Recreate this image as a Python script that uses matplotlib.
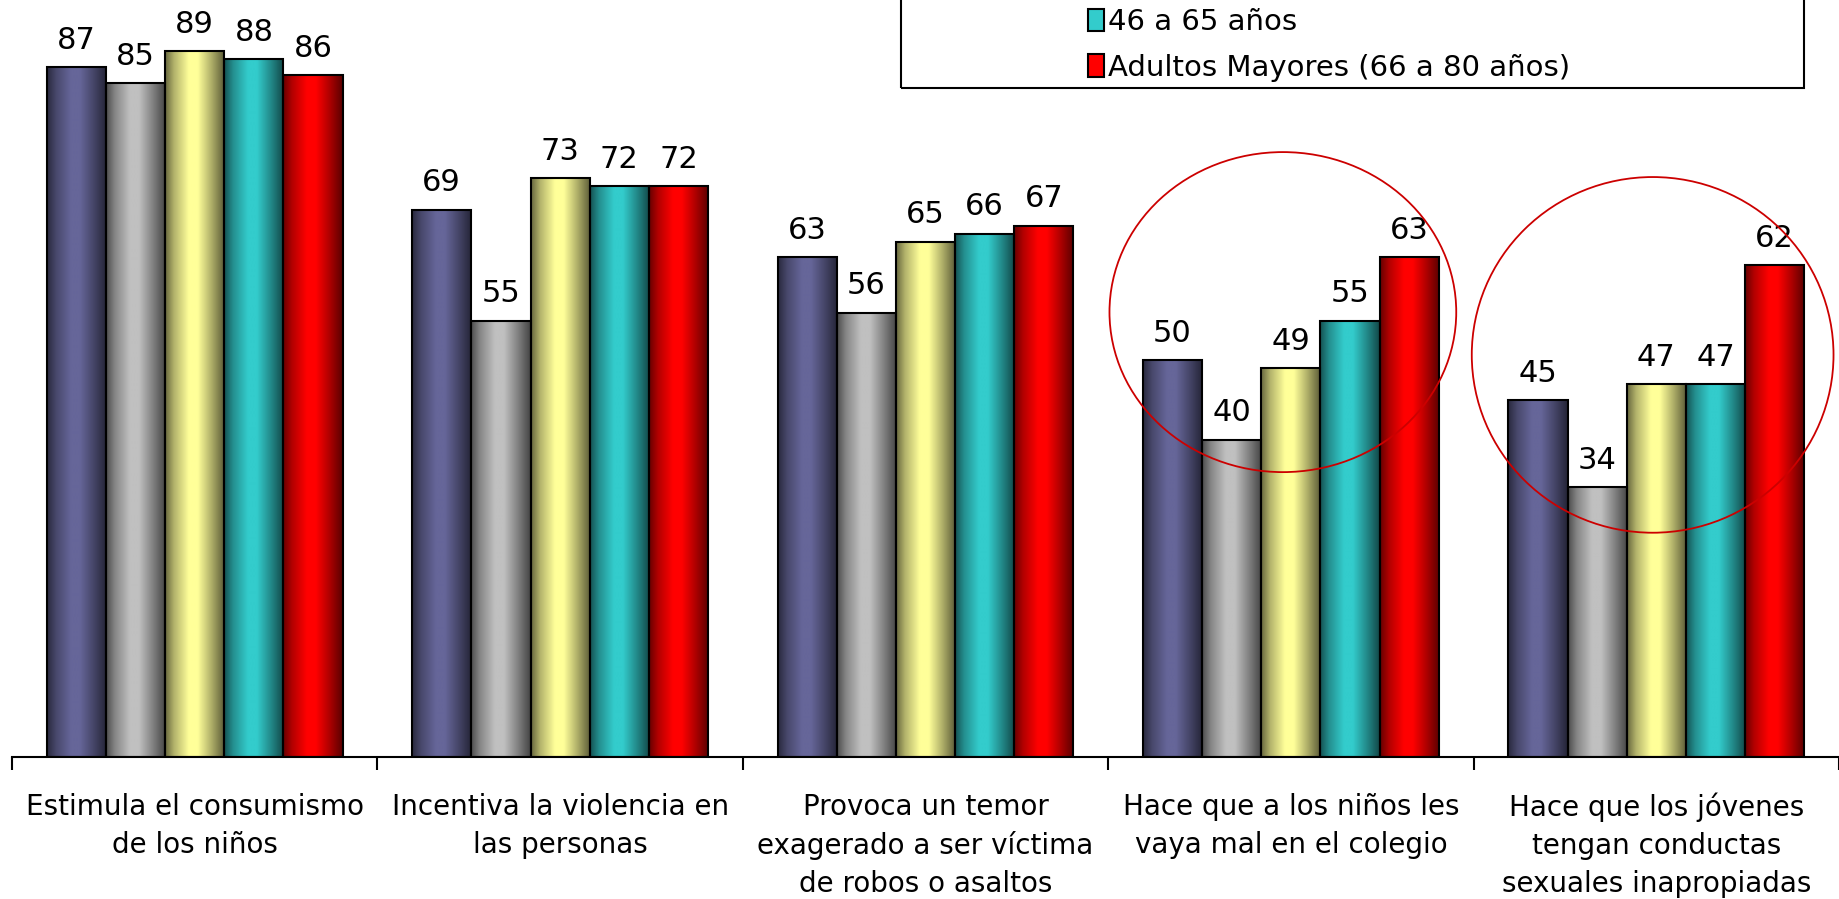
import numpy as np
import matplotlib
matplotlib.use("Agg")
import matplotlib.pyplot as plt
from matplotlib.patches import Ellipse, Rectangle
from matplotlib.ticker import FixedLocator, NullFormatter

# categorias (eje x)
categorias = [
    "Estimula el consumismo\nde los niños",
    "Incentiva la violencia en\nlas personas",
    "Provoca un temor\nexagerado a ser víctima\nde robos o asaltos",
    "Hace que a los niños les\nvaya mal en el colegio",
    "Hace que los jóvenes\ntengan conductas\nsexuales inapropiadas",
]

# series (solo las dos ultimas tienen etiqueta visible en la leyenda)
serie_1 = [87, 69, 63, 50, 45]
serie_2 = [85, 55, 56, 40, 34]
serie_3 = [89, 73, 65, 49, 47]
serie_46_65 = [88, 72, 66, 55, 47]
serie_mayores = [86, 72, 67, 63, 62]

series = [serie_1, serie_2, serie_3, serie_46_65, serie_mayores]
etiquetas = [None, None, None, "46 a 65 años", "Adultos Mayores (66 a 80 años)"]
colores = ["#666699", "#C0C0C0", "#FFFF99", "#33CCCC", "#FF0000"]

FONT = "DejaVu Sans"
FS = 20

W, H = 1839, 899
fig = plt.figure(figsize=(W / 100, H / 100), dpi=100)
ax = fig.add_axes([12 / W, 1 - 756.5 / H, 1 - 12 / W, 756.5 / H])

n = len(series)
ancho_grupo = 0.81
ancho = ancho_grupo / n
x = np.arange(len(categorias))

# perfil de brillo tipo cilindro
t = np.linspace(0, 1, 200)
perfil = np.interp(t, [0, 0.15, 0.4, 0.55, 0.8, 1], [0.4, 0.7, 1.0, 1.0, 0.65, 0.35])

handles = []
for i, (vals, col) in enumerate(zip(series, colores)):
    pos = x - ancho_grupo / 2 + ancho * (i + 0.5)
    rgb = np.array(matplotlib.colors.to_rgb(col))
    grad = (perfil[:, None] * rgb[None, :])[None, :, :]
    bars = ax.bar(pos, vals, width=ancho, color=col, edgecolor="none", zorder=2)
    for b in bars:
        im = ax.imshow(grad, extent=[b.get_x(), b.get_x() + b.get_width(), 0, b.get_height()],
                       aspect="auto", zorder=2.5, interpolation="bilinear")
        im.set_clip_path(b)
    ax.bar(pos, vals, width=ancho, fill=False, edgecolor="black", linewidth=1.5, zorder=3)
    for p, v in zip(pos, vals):
        ax.annotate(str(v), (p, v), xytext=(0, 9), textcoords="offset points",
                    ha="center", va="bottom", fontsize=22, family=FONT)
    h = Rectangle((0, 0), 1, 1, facecolor=col, edgecolor="black", linewidth=1.5)
    if etiquetas[i]:
        handles.append((h, etiquetas[i]))

ax.set_xlim(-0.5, 4.5)
ax.set_ylim(0, 95.5)

for s in ["top", "right", "left"]:
    ax.spines[s].set_visible(False)
ax.spines["bottom"].set_linewidth(1.5)
ax.set_yticks([])

ax.xaxis.set_major_locator(FixedLocator(np.arange(-0.5, 5, 1)))
ax.xaxis.set_major_formatter(NullFormatter())
ax.tick_params(axis="x", which="major", length=9, width=1.5, direction="out")
ax.set_xticks(x, minor=True)
ax.set_xticklabels(categorias, minor=True, fontsize=FS, family=FONT, linespacing=1.45)
ax.tick_params(axis="x", which="minor", length=0, pad=26)

# ovalos rojos de enfasis
ax.add_patch(Ellipse((2.978, 56.1), 0.949, 40.4, fill=False, edgecolor="#CC0000", linewidth=1.3, zorder=4))
ax.add_patch(Ellipse((3.99, 50.7), 0.99, 44.9, fill=False, edgecolor="#CC0000", linewidth=1.3, zorder=4, clip_on=False))

# caja de la leyenda (cortada por arriba)
fig.patches.append(Rectangle((901 / W, 1 - 88 / H), (1804 - 901) / W, 88 / H + 0.05,
                             transform=fig.transFigure, fill=False, edgecolor="black", linewidth=1.5))
leg = fig.legend([h for h, _ in handles], [l for _, l in handles],
                 loc="upper left", bbox_to_anchor=(1088 / W, 1 - 8 / H), frameon=False,
                 prop={"family": FONT, "size": 21}, handlelength=0.55, handleheight=0.8,
                 handletextpad=0.15, labelspacing=0.6, borderpad=0, borderaxespad=0)

fig.savefig("out.png", dpi=100)
